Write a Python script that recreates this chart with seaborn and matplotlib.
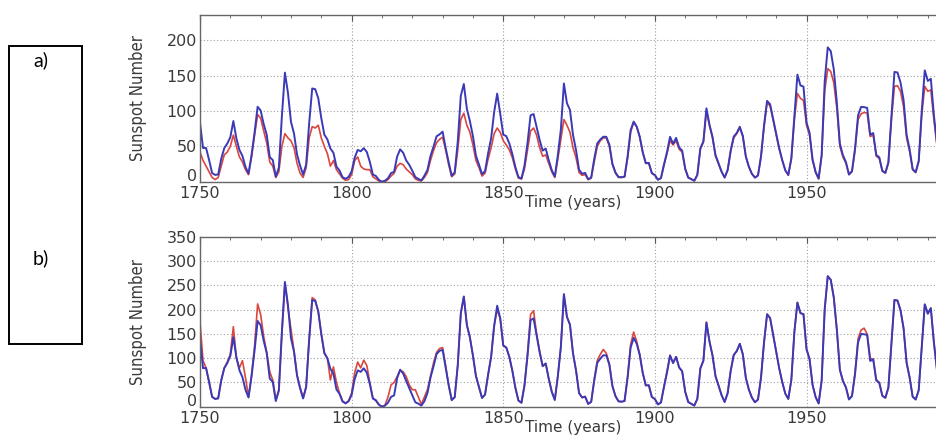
import matplotlib
matplotlib.use("Agg")
import matplotlib.pyplot as plt
from matplotlib.patches import Rectangle
from matplotlib.ticker import MultipleLocator
from matplotlib.transforms import ScaledTranslation
from matplotlib import font_manager
import numpy as np
import pandas as pd
import seaborn as sns

years = list(range(1750, 2001))

# Panel a: original sunspot series (blue) and group sunspot series (red)
sn_v1 = [83.4, 47.7, 47.8, 30.7, 12.2, 9.6, 10.2, 32.4, 47.6, 54.0,
         62.9, 85.9, 61.2, 45.1, 36.4, 20.9, 11.4, 37.8, 69.8, 106.1,
         100.8, 81.6, 66.5, 34.8, 30.6, 7.0, 19.8, 92.5, 154.4, 125.9,
         84.8, 68.1, 38.5, 22.8, 10.2, 24.1, 82.9, 132.0, 130.9, 118.1,
         89.9, 66.6, 60.0, 46.9, 41.0, 21.3, 16.0, 6.4, 4.1, 6.8,
         14.5, 34.0, 45.0, 43.1, 47.5, 42.2, 28.1, 10.1, 8.1, 2.5,
         0.0, 1.4, 5.0, 12.2, 13.9, 35.4, 45.8, 41.0, 30.1, 23.9,
         15.6, 6.6, 4.0, 1.8, 8.5, 16.6, 36.3, 49.6, 64.2, 67.0,
         70.9, 47.8, 27.5, 8.5, 13.2, 56.9, 121.5, 138.3, 103.2, 85.7,
         64.6, 36.7, 24.2, 10.7, 15.0, 40.1, 61.5, 98.5, 124.7, 96.3,
         66.6, 64.5, 54.1, 39.0, 20.6, 6.7, 4.3, 22.7, 54.8, 93.8,
         95.8, 77.2, 59.1, 44.0, 47.0, 30.5, 16.3, 7.3, 37.6, 74.0,
         139.0, 111.2, 101.6, 66.2, 44.7, 17.0, 11.3, 12.4, 3.4, 6.0,
         32.3, 54.3, 59.7, 63.7, 63.5, 52.2, 25.4, 13.1, 6.8, 6.3,
         7.1, 35.6, 73.0, 85.1, 78.0, 64.0, 41.8, 26.2, 26.7, 12.1,
         9.5, 2.7, 5.0, 24.4, 42.0, 63.5, 53.8, 62.0, 48.5, 43.9,
         18.6, 5.7, 3.6, 1.4, 9.6, 47.4, 57.1, 103.9, 80.6, 63.6,
         37.6, 26.1, 14.2, 5.8, 16.7, 44.3, 63.9, 69.0, 77.8, 64.9,
         35.7, 21.2, 11.1, 5.7, 8.7, 36.1, 79.7, 114.4, 109.6, 88.8,
         67.8, 47.5, 30.6, 16.3, 9.6, 33.2, 92.6, 151.6, 136.3, 134.7,
         83.9, 69.4, 31.5, 13.9, 4.4, 38.0, 141.7, 190.2, 184.8, 159.0,
         112.3, 53.9, 37.6, 27.9, 10.2, 15.1, 47.0, 93.8, 105.9, 105.5,
         104.5, 66.6, 68.9, 38.0, 34.5, 15.5, 12.6, 27.5, 92.5, 155.4,
         154.6, 140.4, 115.9, 66.6, 45.9, 17.9, 13.4, 29.4, 100.2, 157.6,
         142.6, 145.7, 94.3, 54.6, 29.9, 17.5, 8.6, 21.5, 64.3, 93.3,
         119.6]

gsn = [42, 30, 22, 14, 6, 3, 6, 22, 38, 42,
       50, 66, 50, 35, 28, 17, 10, 35, 66, 95,
       90, 72, 55, 28, 22, 6, 14, 50, 68, 62,
       58, 48, 26, 12, 6, 20, 62, 78, 76, 80,
       62, 50, 40, 22, 30, 17, 11, 5, 2, 3,
       10, 30, 35, 22, 18, 17, 17, 7, 4, 1,
       0, 0, 3, 8, 12, 22, 26, 24, 18, 14,
       10, 4, 2, 1, 6, 13, 30, 44, 55, 60,
       63, 45, 24, 7, 11, 45, 88, 97, 80, 70,
       52, 30, 20, 8, 12, 32, 48, 68, 76, 70,
       58, 52, 45, 34, 18, 5, 4, 18, 45, 72,
       76, 66, 48, 36, 38, 26, 14, 6, 32, 60,
       88, 80, 70, 48, 34, 13, 9, 10, 3, 5,
       28, 50, 58, 62, 62, 50, 24, 12, 6, 6,
       7, 33, 70, 84, 78, 63, 41, 26, 26, 12,
       9, 3, 5, 23, 40, 58, 52, 58, 46, 42,
       18, 6, 4, 1, 10, 46, 56, 100, 80, 62,
       36, 25, 14, 6, 16, 43, 62, 68, 76, 64,
       35, 21, 11, 6, 9, 35, 78, 112, 107, 87,
       66, 46, 30, 16, 9, 32, 88, 125, 118, 115,
       80, 66, 30, 13, 4, 36, 128, 160, 156, 140,
       104, 50, 35, 26, 10, 14, 44, 88, 96, 98,
       97, 64, 66, 36, 33, 15, 12, 26, 88, 135,
       136, 128, 106, 62, 43, 17, 13, 28, 94, 135,
       128, 130, 88, 52, 28, 17, 8, 21, 62, 90,
       115]

# Panel b: recalibrated sunspot series (blue) and reconstruction (red)
sn_v2 = [139.0, 79.5, 79.7, 51.2, 20.3, 16.0, 17.0, 54.0, 79.3, 90.0,
         104.8, 143.2, 102.0, 75.2, 60.7, 34.8, 19.0, 63.0, 116.3, 176.8,
         168.0, 136.0, 110.8, 58.0, 51.0, 11.7, 33.0, 154.2, 257.3, 209.8,
         141.3, 113.5, 64.2, 38.0, 17.0, 40.2, 138.2, 220.0, 218.2, 196.8,
         149.8, 111.0, 100.0, 78.2, 68.3, 35.5, 26.7, 10.7, 6.8, 11.3,
         24.2, 56.7, 75.0, 71.8, 79.2, 70.3, 46.8, 16.8, 13.5, 4.2,
         0.0, 2.3, 8.3, 20.3, 23.2, 59.0, 76.3, 68.3, 52.9, 38.5,
         24.2, 9.2, 6.3, 2.2, 11.4, 28.2, 59.9, 83.0, 108.5, 115.2,
         117.4, 80.8, 44.3, 13.4, 19.5, 85.8, 192.7, 227.3, 168.7, 143.0,
         105.5, 63.3, 40.3, 18.1, 25.1, 65.8, 102.7, 166.3, 208.3, 182.5,
         126.3, 122.0, 102.7, 74.1, 39.0, 12.7, 8.2, 43.4, 104.4, 178.3,
         182.2, 146.6, 112.1, 83.5, 89.2, 57.8, 30.7, 13.9, 62.8, 123.6,
         232.0, 185.3, 169.2, 110.1, 74.5, 28.3, 18.9, 20.7, 5.7, 10.0,
         53.7, 90.5, 99.0, 106.1, 105.8, 86.3, 42.4, 21.8, 11.2, 10.4,
         11.8, 59.5, 121.7, 142.0, 130.0, 106.6, 69.4, 43.8, 44.4, 20.2,
         15.7, 4.6, 8.5, 40.8, 70.1, 105.5, 90.1, 102.8, 80.9, 73.2,
         30.9, 9.5, 6.0, 2.4, 16.1, 79.0, 95.0, 173.6, 134.6, 105.7,
         62.7, 43.5, 23.7, 9.7, 27.9, 74.0, 106.5, 114.7, 129.7, 108.2,
         59.4, 35.1, 18.6, 9.2, 14.6, 60.2, 132.8, 190.6, 182.6, 148.0,
         113.0, 79.2, 50.8, 27.1, 16.1, 55.3, 154.3, 214.7, 193.0, 190.7,
         118.9, 98.3, 45.0, 20.1, 6.6, 54.2, 200.7, 269.3, 261.7, 225.1,
         159.0, 76.4, 53.4, 39.9, 15.0, 22.0, 66.8, 132.9, 150.0, 149.4,
         148.0, 94.4, 97.6, 54.1, 49.2, 22.5, 18.4, 39.3, 131.0, 220.1,
         218.9, 198.9, 162.4, 91.0, 60.5, 20.6, 14.8, 33.9, 123.0, 211.1,
         191.8, 203.3, 133.0, 76.1, 44.9, 25.1, 11.6, 28.9, 88.3, 136.3,
         173.9]

recon = [175, 95, 80, 50, 20, 16, 18, 55, 80, 92,
         108, 165, 100, 80, 95, 60, 20, 65, 125, 212,
         190, 145, 112, 72, 55, 14, 35, 150, 255, 205,
         160, 115, 65, 40, 18, 42, 140, 225, 220, 195,
         150, 110, 100, 55, 82, 50, 28, 12, 7, 12,
         28, 70, 92, 80, 96, 85, 50, 18, 12, 4,
         0, 3, 20, 45, 50, 62, 75, 72, 62, 45,
         35, 35, 20, 5, 20, 35, 62, 90, 112, 120,
         122, 85, 45, 15, 20, 86, 192, 227, 168, 143,
         105, 63, 40, 18, 25, 66, 103, 168, 200, 182,
         126, 122, 103, 74, 39, 13, 8, 45, 110, 190,
         198, 150, 115, 84, 89, 58, 31, 14, 63, 124,
         232, 185, 169, 110, 75, 28, 19, 21, 6, 10,
         56, 95, 108, 118, 110, 88, 43, 22, 11, 10,
         12, 62, 128, 154, 135, 108, 70, 44, 44, 20,
         16, 5, 9, 41, 72, 106, 90, 103, 81, 73,
         31, 10, 6, 2, 16, 79, 95, 174, 135, 106,
         63, 44, 24, 10, 28, 74, 107, 115, 130, 108,
         59, 35, 19, 9, 15, 60, 133, 191, 183, 148,
         113, 79, 51, 27, 16, 55, 154, 215, 193, 191,
         119, 98, 45, 20, 7, 54, 201, 269, 262, 225,
         159, 76, 53, 40, 15, 22, 70, 140, 158, 162,
         150, 100, 98, 56, 50, 23, 18, 39, 131, 220,
         219, 199, 162, 91, 60, 21, 15, 34, 123, 211,
         192, 203, 133, 76, 45, 25, 12, 29, 88, 136,
         174]

BLUE = "#3a3ab8"
RED = "#d9473f"
TEXT = "#3a3a3a"
GRID = "#a0a0a0"

sns.set_theme(style="white")
plt.rcParams["font.family"] = ["DejaVu Sans"]

# narrow face for the axis titles, if one is available
_names = {f.name for f in font_manager.fontManager.ttflist}
if "Liberation Sans Narrow" in _names:
    ylab_font = dict(family=["Liberation Sans Narrow", "DejaVu Sans"], fontsize=12.5)
else:
    ylab_font = dict(family=["DejaVu Sans"], fontsize=12, fontstretch="condensed")

fig = plt.figure(figsize=(9.36, 4.42), dpi=100)
W, H = 936.0, 442.0


def px_axes(left, top, right, bottom):
    return fig.add_axes([left / W, 1 - bottom / H, (right - left) / W, (bottom - top) / H])


ax_a = px_axes(200, 15, 946, 181.7)
ax_b = px_axes(200, 237, 946, 406.7)

panels = [
    (ax_a, gsn, sn_v1, 236, [0, 50, 100, 150, 200]),
    (ax_b, recon, sn_v2, 350, [0, 50, 100, 150, 200, 250, 300, 350]),
]

lift = ScaledTranslation(0, 4.5 / 72, fig.dpi_scale_trans)

for ax, red_vals, blue_vals, ytop, yticks in panels:
    df = pd.DataFrame({"year": years, "red": red_vals, "blue": blue_vals})
    sns.lineplot(data=df, x="year", y="red", color=RED, lw=1.2, ax=ax)
    sns.lineplot(data=df, x="year", y="blue", color=BLUE, lw=1.4, ax=ax)
    ax.set_xlim(1750, 1996)
    ax.set_ylim(0, ytop)
    ax.set_xticks([1750, 1800, 1850, 1900, 1950])
    ax.set_yticks(yticks)
    ax.xaxis.set_minor_locator(MultipleLocator(10))
    ax.yaxis.set_minor_locator(MultipleLocator(10))
    ax.tick_params(which="both", direction="in", top=True, right=True,
                   colors="#555555", labelcolor=TEXT, labelsize=11.5)
    ax.tick_params(which="major", length=4, width=0.8)
    ax.tick_params(which="minor", length=2, width=0.6)
    ax.tick_params(axis="x", pad=3)
    ax.tick_params(axis="y", pad=2)
    ax.grid(True, which="major", color=GRID, linestyle=(0, (1, 2)), linewidth=0.8)
    for s in ax.spines.values():
        s.set_color("#666666")
        s.set_linewidth(1.0)
    ax.set_xlabel("Time (years)", fontsize=11, color=TEXT, labelpad=-4)
    ax.set_ylabel("Sunspot Number", color=TEXT, labelpad=14, **ylab_font)
    # the zero label sits a little above the first year label
    zero = ax.yaxis.get_major_ticks()[0].label1
    zero.set_transform(zero.get_transform() + lift)

# Panel legend box on the left
fig.patches.append(Rectangle((9 / W, 1 - 344 / H), 73 / W, 298 / H,
                             transform=fig.transFigure, fill=False,
                             edgecolor="black", linewidth=1.4))
fig.text(41 / W, 1 - 60 / H, "a)", fontsize=14, ha="center", va="center",
         color="black", family=["Lato", "DejaVu Sans"])
fig.text(41 / W, 1 - 258 / H, "b)", fontsize=14, ha="center", va="center",
         color="black", family=["Lato", "DejaVu Sans"])

fig.savefig("out.png", dpi=100)
